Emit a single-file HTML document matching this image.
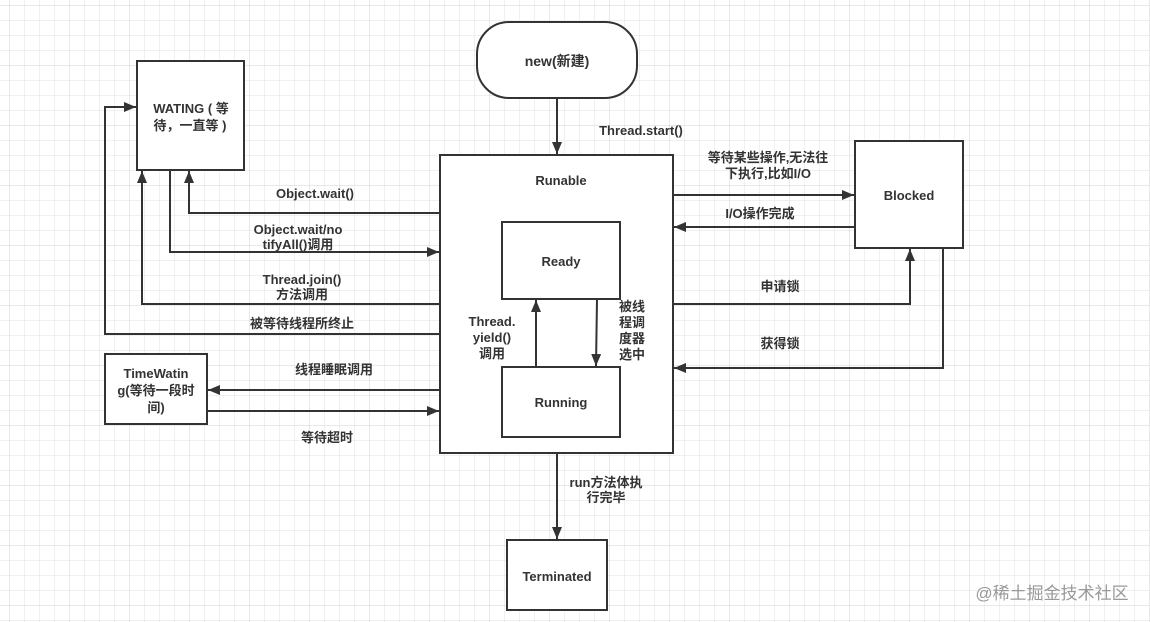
<!DOCTYPE html>
<html><head><meta charset="utf-8"><style>
html,body{margin:0;padding:0;background:#fff}
svg{display:block}
text{font-family:"Liberation Sans","Noto Sans CJK SC",sans-serif;font-size:13px;font-weight:bold;fill:#333;text-anchor:middle}
</style></head><body>
<svg width="1150" height="622" viewBox="0 0 1150 622" xmlns="http://www.w3.org/2000/svg">
<defs>
<pattern id="g" width="15" height="15" patternUnits="userSpaceOnUse" x="9" y="5">
<path d="M0 0H15M0 0V15" stroke="#e2e2e2" stroke-width="1" fill="none"/>
</pattern>
<pattern id="G" width="60" height="60" patternUnits="userSpaceOnUse" x="9" y="5">
<path d="M0 0H60M0 0V60" stroke="#d3d3d3" stroke-width="1" fill="none"/>
</pattern>
<marker id="a" markerWidth="12" markerHeight="10" refX="12" refY="5" orient="auto" markerUnits="userSpaceOnUse">
<path d="M0 0L12 5L0 10Z" fill="#333"/>
</marker>
</defs>
<rect width="1150" height="622" fill="#fff"/>
<rect width="1150" height="622" fill="url(#g)"/>
<rect width="1150" height="622" fill="url(#G)"/>
<g fill="#fff" stroke="#333" stroke-width="2">
<rect x="477" y="22" width="160" height="76" rx="32"/>
<rect x="440" y="155" width="233" height="298"/>
<rect x="502" y="222" width="118" height="77"/>
<rect x="502" y="367" width="118" height="70"/>
<rect x="137" y="61" width="107" height="109"/>
<rect x="105" y="354" width="102" height="70"/>
<rect x="855" y="141" width="108" height="107"/>
<rect x="507" y="540" width="100" height="70"/>
</g>
<g fill="none" stroke="#333" stroke-width="2" marker-end="url(#a)">
<path d="M557 98V154"/>
<path d="M536 367V300"/>
<path d="M597 299L596 366"/>
<path d="M440 213H189V171"/>
<path d="M170 170V252H439"/>
<path d="M440 304H142V171"/>
<path d="M440 334H105V107H136"/>
<path d="M440 390H208"/>
<path d="M207 411H439"/>
<path d="M673 195H854"/>
<path d="M855 227H674"/>
<path d="M673 304H910V249"/>
<path d="M943 248V368H674"/>
<path d="M557 453V539"/>
</g>
<text x="557" y="66" style="font-size:14px">new(新建)</text>
<text x="641" y="135">Thread.start()</text>
<text x="561" y="185">Runable</text>
<text x="561" y="266">Ready</text>
<text x="561" y="407">Running</text>
<text x="191" y="113">WATING ( 等</text>
<text x="190" y="130">待，一直等 )</text>
<text x="156" y="378">TimeWatin</text>
<text x="156" y="395">g(等待一段时</text>
<text x="156" y="412">间)</text>
<text x="909" y="200">Blocked</text>
<text x="557" y="581">Terminated</text>
<text x="315" y="198">Object.wait()</text>
<text x="298" y="234">Object.wait/no</text>
<text x="298" y="249">tifyAll()调用</text>
<text x="302" y="284">Thread.join()</text>
<text x="302" y="299">方法调用</text>
<text x="302" y="328">被等待线程所终止</text>
<text x="334" y="374">线程睡眠调用</text>
<text x="327" y="442">等待超时</text>
<text x="768" y="162">等待某些操作,无法往</text>
<text x="768" y="178">下执行,比如I/O</text>
<text x="760" y="218">I/O操作完成</text>
<text x="780" y="291">申请锁</text>
<text x="780" y="348">获得锁</text>
<text x="492" y="326">Thread.</text>
<text x="492" y="342">yield()</text>
<text x="492" y="358">调用</text>
<text x="632" y="311">被线</text>
<text x="632" y="327">程调</text>
<text x="632" y="343">度器</text>
<text x="632" y="359">选中</text>
<text x="606" y="487">run方法体执</text>
<text x="606" y="502">行完毕</text>
<text x="1052" y="599" style="font-size:17px;font-weight:normal;fill:#999">@稀土掘金技术社区</text>
</svg>
</body></html>
